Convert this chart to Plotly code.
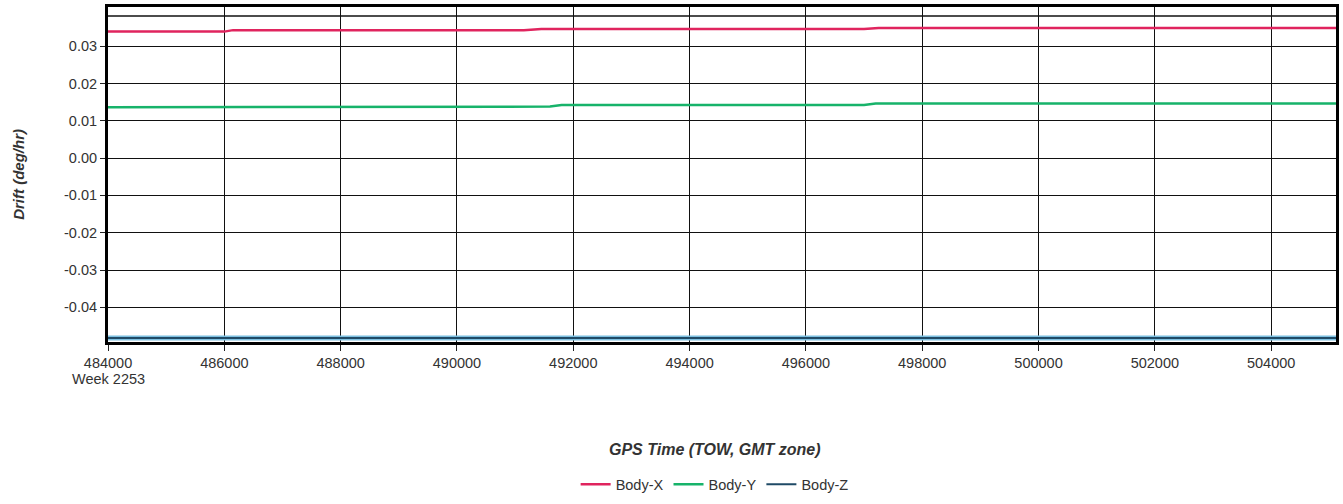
import plotly.graph_objects as go

# ---- data ----
x_body_x = [484000, 486000, 486150, 491150, 491450, 497000, 497250, 505115]
y_body_x = [0.0339, 0.0339, 0.0343, 0.0343, 0.0346, 0.0346, 0.0349, 0.0349]

x_body_y = [484000, 487650, 487850, 491600, 491800, 497000, 497200, 505115]
y_body_y = [0.0136, 0.0136, 0.0138, 0.0138, 0.0142, 0.0142, 0.0146, 0.0146]

x_body_z = [484000, 505115]
y_body_z = [-0.0482, -0.0482]

x_tickvals = [484000, 486000, 488000, 490000, 492000, 494000, 496000, 498000,
              500000, 502000, 504000]
y_tickvals = [-0.04, -0.03, -0.02, -0.01, 0.00, 0.01, 0.02, 0.03]
y_ticktext = ["-0.04", "-0.03", "-0.02", "-0.01", "0.00", "0.01", "0.02", "0.03"]

x_range = [484000, 505115]
y_range = [-0.0493, 0.0405]
top_line_value = 0.0381

font = "Liberation Sans, Arial, sans-serif"
txt = "#333333"

fig = go.Figure()
fig.add_trace(go.Scatter(x=x_body_z, y=y_body_z, mode="lines", name="Body-Z",
                         line=dict(color="#7cbfe0", width=5), showlegend=False,
                         hoverinfo="skip"))
fig.add_trace(go.Scatter(x=x_body_x, y=y_body_x, mode="lines", name="Body-X",
                         line=dict(color="#e0245e", width=2.5)))
fig.add_trace(go.Scatter(x=x_body_y, y=y_body_y, mode="lines", name="Body-Y",
                         line=dict(color="#17b36a", width=2.5)))
fig.add_trace(go.Scatter(x=x_body_z, y=y_body_z, mode="lines", name="Body-Z",
                         line=dict(color="#1f4a66", width=2)))

fig.update_layout(
    width=1343, height=504,
    margin=dict(l=108, r=4, t=7, b=157),
    paper_bgcolor="white", plot_bgcolor="white",
    font=dict(family=font, size=14, color=txt),
    showlegend=True,
    legend=dict(orientation="h", x=0.494, xanchor="center", y=-0.425, yanchor="middle",
                font=dict(family=font, size=14.5, color=txt),
                itemwidth=30, traceorder="normal"),
    xaxis=dict(range=x_range, tickvals=x_tickvals, ticktext=[str(v) for v in x_tickvals],
               showgrid=True, gridcolor="#111111", gridwidth=1.2,
               showline=True, linecolor="black", linewidth=3, mirror=True,
               ticks="outside", ticklen=6, tickcolor="#222222",
               zeroline=False, tickfont=dict(size=14.5, color=txt)),
    yaxis=dict(range=y_range, tickvals=y_tickvals, ticktext=y_ticktext,
               showgrid=True, gridcolor="#111111", gridwidth=1.2,
               showline=True, linecolor="black", linewidth=3, mirror=True,
               ticks="outside", ticklen=5, tickcolor="#222222",
               zeroline=False, tickfont=dict(size=14.5, color=txt)),
    shapes=[dict(type="line", xref="paper", x0=0, x1=1, yref="y",
                 y0=top_line_value, y1=top_line_value,
                 line=dict(color="#111111", width=1.5))],
    annotations=[
        dict(text="<b><i>Drift (deg/hr)</i></b>", xref="paper", yref="paper",
             x=-0.073, y=0.5, textangle=-90, showarrow=False,
             xanchor="center", yanchor="middle",
             font=dict(family=font, size=15, color=txt)),
        dict(text="<b><i>GPS Time (TOW, GMT zone)</i></b>", xref="paper", yref="paper",
             x=0.494, y=-0.3215, showarrow=False, xanchor="center", yanchor="middle",
             font=dict(family=font, size=16, color=txt)),
        dict(text="Week 2253", xref="x", yref="paper", x=484000, y=-0.109,
             xanchor="center", yanchor="middle", showarrow=False,
             font=dict(family=font, size=14.5, color=txt)),
    ],
)

fig.write_html(
    "out.html",
    config={"displayModeBar": False},
    post_script="document.body.style.margin='0';document.documentElement.style.overflow='hidden';",
)
